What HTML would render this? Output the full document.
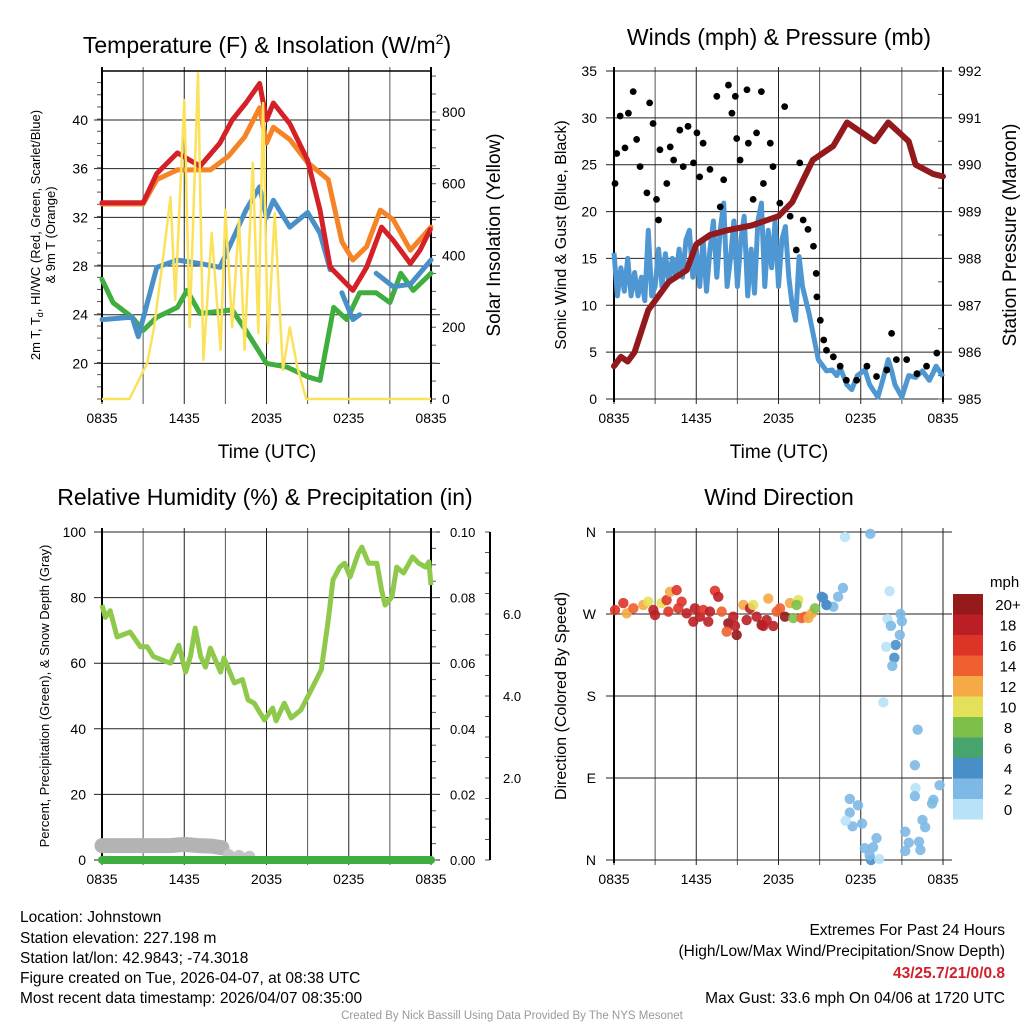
<!DOCTYPE html>
<html><head><meta charset="utf-8">
<style>
html,body{margin:0;padding:0;background:#fff;}
svg{display:block;font-family:"Liberation Sans",Arial,sans-serif;}
</style></head>
<body>
<svg id="root" width="1024" height="1024" viewBox="0 0 1024 1024" xmlns="http://www.w3.org/2000/svg">
<rect width="1024" height="1024" fill="#fff"/>
<g id="tl"></g>
<g id="tr"></g>
<g id="bl"></g>
<g id="br"></g>

<text x="267" y="53" font-size="23" text-anchor="middle">Temperature (F) &amp; Insolation (W/m<tspan font-size="14" dy="-9">2</tspan><tspan dy="9">)</tspan></text>
<text x="779" y="45" font-size="23" text-anchor="middle">Winds (mph) &amp; Pressure (mb)</text>
<text x="265" y="505" font-size="23" text-anchor="middle">Relative Humidity (%) &amp; Precipitation (in)</text>
<text x="779" y="505" font-size="23" text-anchor="middle">Wind Direction</text>

<text x="267" y="458" font-size="19" text-anchor="middle">Time (UTC)</text>
<text x="779" y="458" font-size="19" text-anchor="middle">Time (UTC)</text>

<g transform="translate(40,235) rotate(-90)">
<text x="0" y="0" font-size="13" text-anchor="middle">2m T, T<tspan font-size="9" dy="3">d</tspan><tspan dy="-3">, HI/WC (Red, Green, Scarlet/Blue)</tspan></text>
<text x="0" y="15" font-size="13" text-anchor="middle">&amp; 9m T (Orange)</text>
</g>
<text transform="translate(500,235) rotate(-90)" font-size="19" text-anchor="middle">Solar Insolation (Yellow)</text>
<text transform="translate(566,235) rotate(-90)" font-size="16" text-anchor="middle">Sonic Wind &amp; Gust (Blue, Black)</text>
<text transform="translate(1016,235) rotate(-90)" font-size="19" text-anchor="middle">Station Pressure (Maroon)</text>
<text transform="translate(49,696) rotate(-90)" font-size="13" text-anchor="middle">Percent, Precipitation (Green), &amp; Snow Depth (Gray)</text>
<text transform="translate(566,696) rotate(-90)" font-size="16" text-anchor="middle">Direction (Colored By Speed)</text>

<g font-size="15.5">
<text x="20" y="922">Location: Johnstown</text>
<text x="20" y="943">Station elevation: 227.198 m</text>
<text x="20" y="963">Station lat/lon: 42.9843; -74.3018</text>
<text x="20" y="983">Figure created on Tue, 2026-04-07, at 08:38 UTC</text>
<text x="20" y="1003">Most recent data timestamp: 2026/04/07 08:35:00</text>
</g>
<g font-size="15.5" text-anchor="end">
<text x="1005" y="935">Extremes For Past 24 Hours</text>
<text x="1005" y="956">(High/Low/Max Wind/Precipitation/Snow Depth)</text>
<text x="1005" y="978" fill="#d0202a" font-weight="bold">43/25.7/21/0/0.8</text>
<text x="1005" y="1003">Max Gust: 33.6 mph On 04/06 at 1720 UTC</text>
</g>
<text x="512" y="1019" font-size="11.5" fill="#999" text-anchor="middle">Created By Nick Bassill Using Data Provided By The NYS Mesonet</text>
</svg>
<script>
// ---------- data (x = half-hour index since 0835 UTC) ----------
const timeLabels = ["0835","1435","2035","0235","0835"];
const tempTicks = [20,24,28,32,36,40];
const solarTicks = [0,200,400,600,800];
const windTicks = [0,5,10,15,20,25,30,35];
const presTicks = [985,986,987,988,989,990,991,992];
const rhTicks = [0,20,40,60,80,100];
const precipTicks = ["0.00","0.02","0.04","0.06","0.08","0.10"];
const snowTicks = [2.0,4.0,6.0];
const dirLabels = ["N","E","S","W","N"];
const speedBins = ["0","2","4","6","8","10","12","14","16","18","20+"];
const speedColors = ["#b8e2f8","#7db9e4","#4a8ec8","#48a46e","#7cc04a","#e5e05a","#f6aa45","#ee6030","#dd3428","#bb1f25","#951a1c"];

const redT = [0,6,8,11,14.3,17.2,19,21,23,24,25,27.4,30,31.8,33.3,36.6,38.6,40.8,42.5,45,46.4,47.9];
const redV = [33.2,33.2,35.6,37.3,36.2,38.1,40,41.4,43,40,41.4,39.7,36.7,32.6,27.9,26,27.9,31.2,30.1,28.2,29.3,31.0];
const orangeT = [0,6,8,11,15.8,18.4,20.8,23,24,25,27.4,30,33,35,36.6,38.6,40.6,42.5,45,48];
const orangeV = [33.1,33.1,35.1,35.9,35.9,37,38.6,41,38.1,39.4,38.4,36.5,35.1,30,28.5,29.6,32.6,31.8,29.3,31.2];
const blueT = [0,4.4,5.3,8,11,14.3,17.2,19,21,23,24,25,27.4,30,31.8,33.3,null,35,36.6,37.6,null,40,42.5,45,48];
const blueV = [23.6,23.8,22.2,27.9,28.5,28.2,27.9,30.1,32.6,34.5,32,33.4,31.2,32.4,30.7,27.7,null,25.8,23.6,24,null,27.4,26.3,26.5,28.5];
const greenT = [0,1.6,4.4,6,8,11,12.4,14.3,19,21,24,27,30,31.8,33.8,35.7,37.6,40,42,43.6,45.4,48];
const greenV = [26.9,25,23.8,22.7,23.8,24.6,26,24.1,24.4,22.7,20,19.7,18.9,18.6,24.6,23.6,25.8,25.8,25,27.4,26,27.4];
const solarT = [0,4,6.6,7.6,9,10,10.7,12,12.8,14,14.8,16,17.3,18,19,20,20.8,22,22.8,23.5,24.2,25.2,26.4,27.4,28.5,29.8,48];
const solarV = [0,0,100,200,407,563,276,833,200,908,109,463,137,527,200,500,137,658,184,825,156,518,81,200,89,0,0];

const sonicT = [0,0.5,1,1.5,2,2.5,3,3.5,4,4.5,5,5.5,6,6.5,7,7.5,8,8.5,9,9.5,10,10.5,11,11.5,12,12.5,13,13.5,14,14.5,15,15.5,16,16.5,17,17.5,18,18.5,19,19.5,20,20.5,21,21.5,22,22.5,23,23.5,24,24.5,25,25.5,26,26.5,27,27.5,28.5,29.8,30.5,31,31.8,32.5,33,34,34.7,35.5,36.6,37.3,38.5,39.2,40,40.5,41,42,43,44,45,46,46.5,47,48];
const sonicV = [15.6,11,14,11.5,15,11,13.5,11,13,10.5,18,11,12,16,12,15.5,12.5,15,13,16,13,17,18,13,16,12,17,11.5,16,19,13,18,20.9,12,15,19,12,17,19.5,11,16,11.3,19,20.9,12,18,14,19,12,17,18.4,13,10,8.4,15.2,12,9,4.2,3.5,3,3.1,2.5,3.3,1.5,1,2.5,3.1,1.5,0.2,2,4.2,3,1.5,0.2,2.5,2.3,3,2,2.7,3.5,2.4];
const gustT = [0.15,0.4,0.9,1.6,2.1,2.8,3.3,3.8,4.8,5.2,5.7,6.2,6.5,6.7,7.7,8.2,8.7,9.6,10.1,10.8,11.6,12.1,12.5,13,14,15,15.5,16,16.7,17.2,17.7,17.9,18.4,19.4,19.6,20.3,20.8,21.5,21.8,22.8,23.2,24.2,24.9,25.7,26.6,27.1,27.6,28.3,29.1,29.5,29.6,30.1,30.6,31,32,33,33.9,35.4,36.9,38.3,39.8,40.5,41.2,42.7,44.2,45.6,47.1];
const gustV = [23,26.2,30.2,26.8,30.5,32.8,27.7,24.8,22,31.6,29.4,21.3,19.1,26.6,23,26.9,25.5,28.7,24.8,29.1,25.2,28.4,23.7,27.3,24.5,32.3,20.5,23.4,33.5,30.5,32.3,27.8,25.5,33,27.3,21.3,28.4,32.8,23,27.3,24.8,20.9,31.2,19.5,15.9,25.2,19.1,18.1,16.3,13.4,10.9,8.4,6.3,5.2,4.5,3.5,2,2,3.5,2.4,3.1,7,4.2,4.2,2.7,3.5,4.9];
const presT = [0,1,2,3,5,8,10.6,12,14,16.5,20,24,26,29,32,34,36,38,40,43,44,46.6,48];
const presV = [985.7,985.9,985.8,986.0,986.9,987.5,987.75,988.3,988.5,988.6,988.7,988.9,989.2,990.1,990.4,990.9,990.7,990.5,990.9,990.5,990.0,989.8,989.75];

const rhT = [0,0.5,1.2,2.2,4.1,5.6,6.6,7.5,10,11.2,12.2,12.9,13.6,14.4,15.1,15.8,17.3,17.8,19.3,20.5,21.3,22.2,23.7,24.9,25.4,26.6,27.6,29,30.5,32,33,33.7,34.7,35.4,36.2,37.4,37.9,38.9,40.1,40.8,41.3,42.3,43,44,45.3,46.2,47.2,47.7,48];
const rhV = [77.7,74,76,68,69.5,65,65,62,60,65.5,57.3,62,70.7,62,58.8,64.6,57.3,61.6,54,55,48.8,47.8,42.7,46.3,42.4,47.8,43.3,45.7,51.8,58,73,85.4,89.3,90.5,86.3,93.5,95.4,90.5,90.5,82.3,77.7,80.2,89.3,87.5,92.4,90.5,89.3,90.9,83.8];
const precipT = [0,48];
const precipV = [0,0];
const snowT = [0,10,12,14,16,17.5];
const snowV = [0.35,0.35,0.38,0.35,0.34,0.3];
const snowDotT = [18.5,20,21.5];
const snowDotV = [0.12,0.1,0.08];

const dirT = [0.15,1.36,1.85,2.82,4.28,5.0,5.74,5.98,6.95,7.68,8.17,9.14,7.93,9.38,9.87,10.6,11.57,11.81,12.54,13.03,13.76,14.0,14.73,15.22,15.71,16.68,16.44,17.4,17.9,17.65,18.87,19.35,19.84,20.32,20.81,21.54,21.78,22.51,22.27,23.24,23.73,24.22,24.94,25.67,26.16,26.89,26.64,27.38,27.86,28.35,28.84,29.32,30.3,31.0,
 33.7,37.4,33.4,32.7,32,30.5,31,40.2,39.9,40.4,41.8,42,41.7,41.1,39.7,40.9,40.6,39.3,44.3,43.9,47.5,44,43.9,46.6,46.4,45,45.4,42.5,43,44.5,44.7,42.5,34.4,35.6,34.4,34.8,33.8,36.2,38.3,37.8,36.6,37.5,38.7,37.3];
const dirV = [274.4,282,270.7,276.2,279.9,283.5,274.4,269,282,285.3,294.4,296.2,272.6,276.2,283.5,270.7,261.6,276.2,267,274.4,261.6,272.6,295.5,288.9,272.6,259.8,250.6,267,247,256.9,279.9,263.4,276.2,279.9,267,258,256.9,287,263.4,256.9,272.6,276.2,267,282,265.5,285.3,279.9,265.5,267,265.5,270.7,276.2,288.9,279.9,
 354.6,358,298.6,289,278,288,280,295,264.5,257,270,262,247,236,234,222,213,173,143,104,82,79,70,66,62,44,36,31,19,20,11,10,67,60,52,37,43,40,24,14,13,0,1,5];
const dirS = [16,16,12,14,12,10,18,18,10,16,12,16,16,16,16,18,18,18,18,16,18,18,16,18,14,20,14,18,20,18,12,18,18,10,18,20,18,12,18,18,14,14,20,12,8,10,8,14,14,12,12,8,4,4,
 0,3,3,2,2,4,4,1,1,2,3,2,3,4,1,4,2,0,3,3,3,1,2,2,2,2,2,2,2,3,3,2,2,3,2,2,0,2,3,2,2,4,0,2];

// ---------- helpers ----------
const NS = "http://www.w3.org/2000/svg";
function mk(parent, tag, attrs, txt){
  const e = document.createElementNS(NS, tag);
  for (const k in attrs) e.setAttribute(k, attrs[k]);
  if (txt !== undefined) e.textContent = txt;
  parent.appendChild(e);
  return e;
}
function pathD(ts, vs, fx, fy){
  let d = "", pen = false;
  for (let k = 0; k < ts.length; k++){
    if (ts[k] === null || vs[k] === null){ pen = false; continue; }
    d += (pen ? "L" : "M") + fx(ts[k]).toFixed(1) + "," + fy(vs[k]).toFixed(1);
    pen = true;
  }
  return d;
}
const PX = 329/48;
function frame(g, x0, y0, name){
  for (let k = 0; k <= 8; k++){
    const x = x0 + k*41.125;
    const l = mk(g, "line", {x1:x, y1:y0-4, x2:x, y2:y0+333, stroke: k%2 ? "#555" : "#222", "stroke-width":1});
    
    
  }
  for (let k = 0; k < timeLabels.length; k++){
    const t = mk(g, "text", {x: x0 + k*82.25, y: y0+352, "font-size":14, "text-anchor":"middle"}, timeLabels[k]);
    
    
  }
}
function hgrid(g, x0, ys, name){
  for (const y of ys){
    const l = mk(g, "line", {x1:x0-8, y1:y, x2:x0+338, y2:y, stroke:"#222", "stroke-width":1});
    
    
  }
}
function axisLine(g, x, y1, y2, name){
  const l = mk(g, "line", {x1:x, y1:y1, x2:x, y2:y2, stroke:"#000", "stroke-width":2});
  
  
}
function minorTicks(g, x, y1, y2, step, dir, name){
  for (let y = y2; y >= y1-0.5; y -= step){
    const l = mk(g, "line", {x1:x, y1:y, x2:x+dir*5, y2:y, stroke:"#555", "stroke-width":1});
    
    
  }
}

// ---------- temperature panel ----------
(function(){
  const g = document.getElementById("tl");
  const x = t => 102 + t*PX;
  const yT = v => 120 + (40 - v)*12.17;
  const yS = w => 399 - w*0.3588;
  frame(g, 102, 71, "temp");
  hgrid(g, 102, tempTicks.map(yT), "temp");
  minorTicks(g, 102, 71, 399, 12.17, -1, "temp-minor-tick");
  minorTicks(g, 431, 71, 399, 17.94, 1, "solar-minor-tick");
  axisLine(g, 102, 67, 402, "temp-y-axis");
  axisLine(g, 431, 67, 402, "solar-y-axis");
  const top = mk(g, "line", {x1:102, y1:71, x2:431, y2:71, stroke:"#000", "stroke-width":1.5});
  
  
  for (const v of tempTicks){
    const t = mk(g, "text", {x:88, y:yT(v)+5, "font-size":14, "text-anchor":"end"}, String(v));
    
    
  }
  for (const v of solarTicks){
    const t = mk(g, "text", {x:442, y:yS(v)+5, "font-size":14}, String(v));
    
    
  }
  const series = [[greenT,greenV,"#3fae3f",5,"dewpoint-line"],[blueT,blueV,"#4a90c8",5,"windchill-line"],[orangeT,orangeV,"#f58426",5,"temp-9m-line"],[redT,redV,"#d42027",5,"temp-2m-line"]];
  for (const s of series){
    const p = mk(g, "path", {d: pathD(s[0], s[1], x, yT), fill:"none", stroke:s[2], "stroke-width":s[3], "stroke-linejoin":"round", "stroke-linecap":"round"});
    
    
  }
  const sp = mk(g, "path", {d: pathD(solarT, solarV, x, yS), fill:"none", stroke:"#fbe25a", "stroke-width":2.5, "stroke-linejoin":"round"});
  
  
})();

// ---------- winds panel ----------
(function(){
  const g = document.getElementById("tr");
  const x = t => 614 + t*PX;
  const yW = v => 399 - v*9.371;
  const yP = p => 399 - (p - 985)*46.86;
  frame(g, 614, 71, "wind");
  hgrid(g, 614, windTicks.map(yW), "wind");
  minorTicks(g, 943, 71, 399, 23.43, -1, "pressure-minor-tick");
  axisLine(g, 614, 67, 402, "wind-y-axis");
  axisLine(g, 943, 67, 402, "pressure-y-axis");
  for (const v of windTicks){
    const t = mk(g, "text", {x:597, y:yW(v)+5, "font-size":14, "text-anchor":"end"}, String(v));
    
    
  }
  for (const v of presTicks){
    const t = mk(g, "text", {x:958, y:yP(v)+5, "font-size":14}, String(v));
    
    
  }
  const s = mk(g, "path", {d: pathD(sonicT, sonicV, x, yW), fill:"none", stroke:"#4f97d2", "stroke-width":5, "stroke-linejoin":"round"});
  
  
  for (let k = 0; k < gustT.length; k++){
    const c = mk(g, "circle", {cx:x(gustT[k]), cy:yW(gustV[k]), r:3.4, fill:"#000"});
    
    
  }
  const p = mk(g, "path", {d: pathD(presT, presV, x, yP), fill:"none", stroke:"#921a1d", "stroke-width":6, "stroke-linejoin":"round", "stroke-linecap":"round"});
  
  
})();

// ---------- humidity panel ----------
(function(){
  const g = document.getElementById("bl");
  const x = t => 102 + t*PX;
  const yR = v => 860 - v*3.28;
  const yPr = v => 860 - v*3280;
  const yS = v => 860 - v*41;
  frame(g, 102, 532, "rh");
  hgrid(g, 102, rhTicks.map(yR), "rh");
  minorTicks(g, 431, 532, 860, 16.4, 1, "precip-minor-tick");
  minorTicks(g, 490, 532, 860, 20.5, -1, "snow-minor-tick");
  axisLine(g, 102, 528, 863, "rh-y-axis");
  axisLine(g, 431, 528, 863, "precip-y-axis");
  axisLine(g, 490, 532, 860, "snow-y-axis");
  for (const v of rhTicks){
    const t = mk(g, "text", {x:86, y:yR(v)+5, "font-size":14, "text-anchor":"end"}, String(v));
    
    
  }
  for (const v of precipTicks){
    const t = mk(g, "text", {x:450, y:yPr(parseFloat(v))+5, "font-size":13}, v);
    
    
  }
  for (const v of snowTicks){
    const t = mk(g, "text", {x:503, y:yS(v)+5, "font-size":13}, v.toFixed(1));
    
    
  }
  const sn = mk(g, "path", {d: pathD(snowT, snowV, x, yS), fill:"none", stroke:"#b3b3b3", "stroke-width":15, "stroke-linecap":"round", "stroke-linejoin":"round"});
  
  
  for (let k = 0; k < snowDotT.length; k++){
    const c = mk(g, "circle", {cx:x(snowDotT[k]), cy:yS(snowDotV[k]), r:6, fill:"#c4c4c4"});
    
    
  }
  const pr = mk(g, "path", {d: pathD(precipT, precipV, x, yPr), fill:"none", stroke:"#3fae3f", "stroke-width":8, "stroke-linecap":"round"});
  
  
  const rh = mk(g, "path", {d: pathD(rhT, rhV, x, yR), fill:"none", stroke:"#8fc94c", "stroke-width":5, "stroke-linejoin":"round"});
  
  
})();

// ---------- wind direction panel ----------
(function(){
  const g = document.getElementById("br");
  const x = t => 614 + t*PX;
  const yD = d => 860 - d*0.9111;
  frame(g, 614, 532, "dir");
  hgrid(g, 614, [0,90,180,270,360].map(yD), "dir");
  axisLine(g, 614, 528, 863, "dir-y-axis");
  for (let k = 0; k < dirLabels.length; k++){
    const t = mk(g, "text", {x:596, y:yD(k*90)+5, "font-size":14, "text-anchor":"end"}, dirLabels[k]);
    
    
  }
  for (let k = 0; k < dirT.length; k++){
    const bin = Math.min(10, Math.floor(dirS[k]/2));
    const c = mk(g, "circle", {cx:x(dirT[k]), cy:yD(dirV[k]), r:5.2, fill:speedColors[bin], "fill-opacity":0.9});
    
    
  }
  const lt = mk(g, "text", {x:990, y:587, "font-size":15}, "mph");
  
  
  for (let k = 0; k < speedBins.length; k++){
    const y = 594 + (10-k)*20.5;
    const r = mk(g, "rect", {x:953, y:y, width:30, height:20.5, fill:speedColors[k]});
    
    
    const t = mk(g, "text", {x:1008, y:y+16, "font-size":15, "text-anchor":"middle"}, speedBins[k]);
    
    
  }
})();
</script>
</body></html>
